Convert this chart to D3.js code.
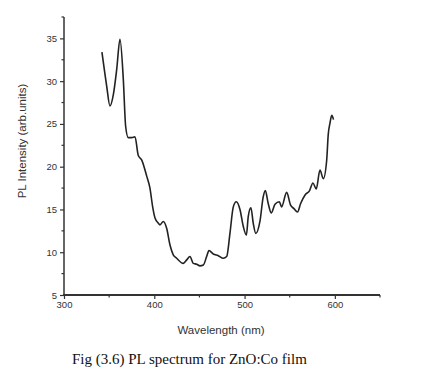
<!DOCTYPE html>
<html>
<head>
<meta charset="utf-8">
<script src="https://cdn.jsdelivr.net/npm/d3@7"></script>
<style>
  body { margin: 0; background: #fff; }
  svg { display: block; }
</style>
</head>
<body>
<div id="chart"></div>
<script>
// PL spectrum values
const wavelength = [342, 344.6, 347.3, 350.9, 354.6, 358.4, 362, 365.7, 368.3, 371.2, 375, 378.6,
  382.3, 386, 391.6, 395.2, 398.2, 400.8, 404.5, 406.3, 410, 413.7, 417.4, 421, 424.8, 432.1,
  435.9, 439.5, 443.2, 447, 450.6, 454.3, 458, 460.6, 465.3, 470.9, 476.4, 480.2, 483.8, 487.5,
  490.8, 494.9, 498.6, 502, 504.1, 507, 509.6, 512.5, 517, 520.7, 523, 526.2, 529.5, 533.7,
  538.5, 541, 546.6, 551, 554.7, 558.6, 562.1, 567, 572, 575.7, 579.4, 583.5, 587.2, 590.9,
  592.7, 594.6, 596.6, 598.5]
const intensity = [33.4, 31.4, 29.4, 27.1, 28.4, 31.4, 34.9, 30.2, 24.7, 23.4, 23.4, 23.5,
  21.3, 20.8, 18.9, 17.5, 15.3, 14.0, 13.4, 13.2, 13.6, 12.8, 10.85, 9.7, 9.3, 8.7,
  9.1, 9.5, 8.7, 8.6, 8.4, 8.5, 9.5, 10.2, 9.8, 9.6, 9.3, 9.5, 12.2, 15.3,
  15.9, 15.0, 13.0, 12.0, 14.2, 15.2, 13.4, 12.2, 13.6, 16.5, 17.2, 15.7, 14.6, 15.6,
  15.9, 15.3, 17.0, 15.5, 15.1, 14.7, 15.7, 16.7, 17.2, 18.1, 17.4, 19.6, 18.6, 20.7,
  23.8, 25.1, 26.0, 25.5]

const yMajor = [5, 10, 15, 20, 25, 30, 35]
const yMinor = [7.5, 12.5, 17.5, 22.5, 27.5, 32.5, 37.5]
const xMajor = [300, 400, 500, 600]
const xMinor = [350, 450, 550, 650]

const width = 428, height = 377
const svg = d3.select("#chart").append("svg")
    .attr("width", width).attr("height", height)

const x = d3.scaleLinear().domain([300, 650]).range([64, 380])
const y = d3.scaleLinear().domain([5, 37.5]).range([295, 17])

const axisColor = "#333"
const labelFont = "Liberation Sans, Arial, sans-serif"

// y axis
const gy = svg.append("g").attr("transform", "translate(" + x(300) + ",0)")
gy.call(d3.axisLeft(y).tickValues(yMajor).tickSize(4).tickPadding(3).tickFormat(d3.format("d")))
gy.call(g => g.select(".domain").remove())
gy.selectAll(".tick line").attr("stroke", axisColor).attr("stroke-width", 1.2)
gy.selectAll(".tick text").attr("fill", "#333").style("font-family", labelFont).style("font-size", "9.5px")
gy.selectAll(".minor").data(yMinor).enter().append("line")
    .attr("class", "minor")
    .attr("x1", 0).attr("x2", -2.5)
    .attr("y1", d => y(d)).attr("y2", d => y(d))
    .attr("stroke", axisColor).attr("stroke-width", 1.2)
gy.append("line")
    .attr("x1", 0).attr("x2", 0)
    .attr("y1", y(37.5)).attr("y2", y(5))
    .attr("stroke", axisColor).attr("stroke-width", 1.5)

// x axis
const gx = svg.append("g").attr("transform", "translate(0," + y(5) + ")")
gx.call(d3.axisBottom(x).tickValues(xMajor).tickSize(4).tickPadding(2).tickFormat(d3.format("d")))
gx.call(g => g.select(".domain").remove())
gx.selectAll(".tick line").attr("stroke", axisColor).attr("stroke-width", 1.2)
gx.selectAll(".tick text").attr("fill", "#333").style("font-family", labelFont).style("font-size", "9.5px")
gx.selectAll(".minor").data(xMinor).enter().append("line")
    .attr("class", "minor")
    .attr("y1", 0).attr("y2", 2.5)
    .attr("x1", d => x(d)).attr("x2", d => x(d))
    .attr("stroke", axisColor).attr("stroke-width", 1.2)
gx.append("line")
    .attr("x1", x(300) - 1).attr("x2", x(650))
    .attr("y1", 0).attr("y2", 0)
    .attr("stroke", axisColor).attr("stroke-width", 2)

// spectrum
const line = d3.line()
    .x((d, i) => x(wavelength[i]))
    .y(d => y(d))
    .curve(d3.curveMonotoneX)
svg.append("path")
    .datum(intensity)
    .attr("d", line)
    .attr("fill", "none")
    .attr("stroke", "#222")
    .attr("stroke-width", 1.6)
    .attr("stroke-linejoin", "round")

// axis titles
svg.append("text")
    .attr("transform", "translate(26,141) rotate(-90)")
    .attr("text-anchor", "middle")
    .style("font-family", labelFont).style("font-size", "11.5px")
    .attr("fill", "#333")
    .text("PL Intensity (arb.units)")
svg.append("text")
    .attr("x", 221).attr("y", 334)
    .attr("text-anchor", "middle")
    .style("font-family", labelFont).style("font-size", "11.5px")
    .attr("fill", "#333")
    .text("Wavelength (nm)")

// caption
svg.append("text")
    .attr("x", 72).attr("y", 364)
    .style("font-family", "Liberation Serif, Times New Roman, serif").style("font-size", "15px")
    .attr("fill", "#111")
    .text("Fig (3.6) PL spectrum for ZnO:Co film")
</script>
</body>
</html>
